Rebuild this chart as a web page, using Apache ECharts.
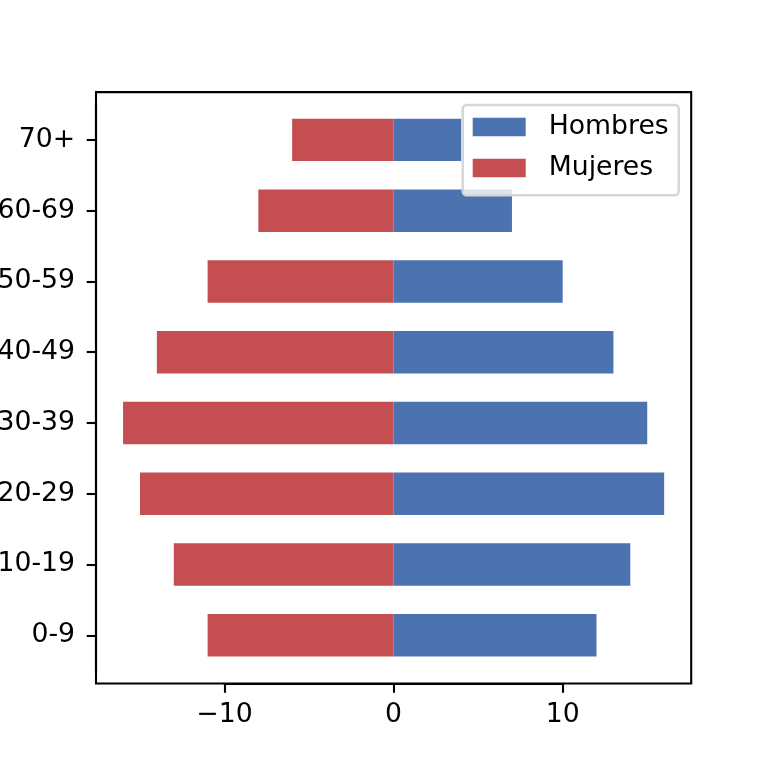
<!DOCTYPE html>
<html>
<head>
<meta charset="utf-8">
<script src="https://cdn.jsdelivr.net/npm/echarts@6/dist/echarts.min.js"></script>
<style>html,body{margin:0;padding:0;background:#fff;}#c{width:768px;height:768px;}</style>
</head>
<body>
<div id="c"></div>
<script>
const categories = ['0-9','10-19','20-29','30-39','40-49','50-59','60-69','70+'];
const hombres = [12, 14, 16, 15, 13, 10, 7, 4];
const mujeres = [-11, -13, -15, -16, -14, -11, -8, -6];
const xTicks = [-10, 0, 10];

const FONT = 'DejaVu Sans';
const FS = 26.7;
const LW = 2.1;
const TL = 9.3;

// Frame (axes box) in pixels, and the x data limits of the frame (matplotlib autoscale)
const FRAME = {left: 96, right: 691.2, top: 92.16, bottom: 683.5};
const XLIM = 17.6;
const pxPerUnit = (FRAME.right - FRAME.left) / (2 * XLIM);
const zeroX = (FRAME.left + FRAME.right) / 2;
const xMin = xTicks[0], xMax = xTicks[xTicks.length - 1];
const gridLeft = zeroX + xMin * pxPerUnit;
const gridRight = zeroX + xMax * pxPerUnit;

const chart = echarts.init(document.getElementById('c'), null, {renderer: 'canvas'});
chart.setOption({
  animation: false,
  backgroundColor: '#fff',
  textStyle: {fontFamily: FONT},
  grid: [
    {left: gridLeft, right: 768 - gridRight, top: 104.5, bottom: 97.3, containLabel: false, outerBoundsMode: 'none'},
    {left: FRAME.left, right: 768 - FRAME.right, top: FRAME.top, bottom: 768 - FRAME.bottom, show: true, borderColor: '#000', borderWidth: LW, backgroundColor: 'transparent', z: 0, outerBoundsMode: 'none'}
  ],
  xAxis: [
    {
      type: 'value', gridIndex: 0, min: xMin, max: xMax, interval: 10, offset: 12.8, position: 'bottom',
      splitLine: {show: false},
      axisLine: {show: true, onZero: false, lineStyle: {color: '#000', width: LW}},
      axisTick: {show: true, inside: false, length: TL, lineStyle: {color: '#000', width: LW}},
      axisLabel: {
        margin: 18, color: '#000', fontFamily: FONT, fontSize: FS,
        formatter: v => String(v).replace('-', '\u2212')
      }
    },
    {type: 'value', gridIndex: 1, show: false, min: 0, max: 1}
  ],
  yAxis: [
    {
      type: 'category', gridIndex: 0, data: categories, position: 'left',
      offset: gridLeft - FRAME.left,
      axisLine: {show: true, onZero: false, lineStyle: {color: '#000', width: LW}},
      axisTick: {show: true, inside: false, length: TL, alignWithLabel: true, lineStyle: {color: '#000', width: LW}},
      axisLabel: {margin: 21, color: '#000', fontFamily: FONT, fontSize: FS, padding: [5, 0, 0, 0]},
      splitLine: {show: false}
    },
    {type: 'value', gridIndex: 1, show: false, min: 0, max: 1}
  ],
  legend: {
    orient: 'vertical',
    left: 462.7, top: 105,
    padding: [8.5, 10, 13.7, 10],
    itemWidth: 53, itemHeight: 18.7, itemGap: 14,
    icon: 'rect',
    backgroundColor: 'rgba(255,255,255,0.8)',
    borderColor: '#d6d6d6', borderWidth: 2.5, borderRadius: 4,
    textStyle: {fontFamily: FONT, fontSize: FS, color: '#000', lineHeight: 26, padding: [0, 0, 0, 18]},
    data: ['Hombres', 'Mujeres'],
    z: 10
  },
  series: [
    {
      name: 'Hombres', type: 'bar', xAxisIndex: 0, yAxisIndex: 0, clip: false,
      data: hombres, barWidth: '60%', barGap: '-100%',
      itemStyle: {color: '#4c72b0'}
    },
    {
      name: 'Mujeres', type: 'bar', xAxisIndex: 0, yAxisIndex: 0, clip: false,
      data: mujeres, barWidth: '60%', barGap: '-100%',
      itemStyle: {color: '#c44e52'}
    }
  ]
});
</script>
</body>
</html>
